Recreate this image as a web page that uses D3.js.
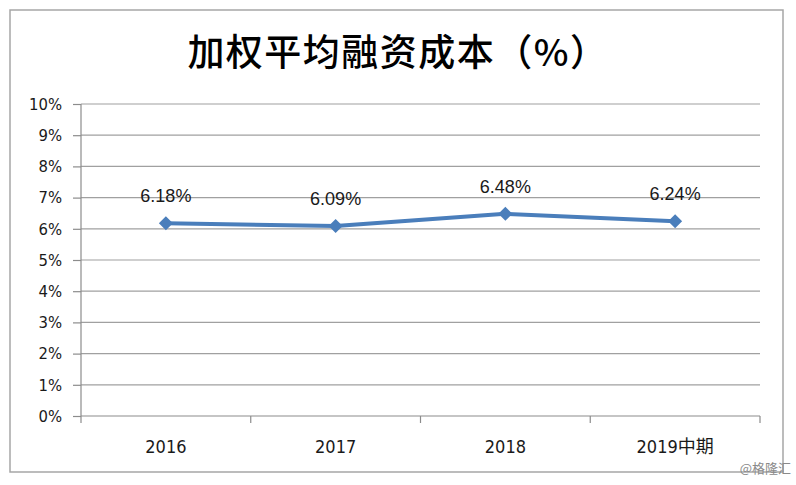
<!DOCTYPE html>
<html>
<head>
<meta charset="utf-8">
<script src="https://cdn.jsdelivr.net/npm/d3@7"></script>
<style>
  html, body { margin: 0; padding: 0; background: #fff; }
  svg { display: block; }
</style>
</head>
<body>
<script>
const categories = ["2016", "2017", "2018", "2019中期"];
const values = [6.18, 6.09, 6.48, 6.24];
const valueLabels = ["6.18%", "6.09%", "6.48%", "6.24%"];
const yTicks = [0, 1, 2, 3, 4, 5, 6, 7, 8, 9, 10];
const title = "加权平均融资成本（%）";
const watermark = "@格隆汇";

(function () {
const W = 796, H = 485;
const svg = d3.select("body").append("svg").attr("width", W).attr("height", H);

// outer frame
svg.append("rect").attr("x", 10).attr("y", 10).attr("width", 773).attr("height", 462)
  .attr("fill", "#fff").attr("stroke", "#a6a6a6").attr("stroke-width", 1.5);

const pLeft = 81, pRight = 760, pTop = 104, pBottom = 416;
const x = d3.scaleBand().domain(categories).range([pLeft, pRight]);
const y = d3.scaleLinear().domain([0, 10]).range([pBottom, pTop]);

// gridlines
svg.append("g").selectAll("line").data(yTicks.filter(d => d > 0)).join("line")
  .attr("x1", pLeft).attr("x2", pRight)
  .attr("y1", d => y(d)).attr("y2", d => y(d))
  .attr("stroke", "#a0a0a0").attr("stroke-width", 1.2);

// y axis
const yAxis = svg.append("g").attr("transform", `translate(${pLeft},0)`)
  .call(d3.axisLeft(y).tickValues(yTicks).tickFormat(d => d + "%").tickSize(8).tickPadding(11));
yAxis.select(".domain").attr("d", `M0,${pTop}V${pBottom + 7}`).attr("stroke", "#8c8c8c").attr("stroke-width", 1.2);
yAxis.selectAll(".tick line").attr("stroke", "#8c8c8c").attr("stroke-width", 1.2);
yAxis.selectAll(".tick text").attr("fill", "#1a1a1a")
  .style("font-family", "'DejaVu Sans Condensed', 'DejaVu Sans', sans-serif").style("font-size", "16.5px");

// x axis
const xAxis = svg.append("g").attr("transform", `translate(0,${pBottom})`)
  .call(d3.axisBottom(x).tickSize(0).tickPadding(24));
xAxis.select(".domain").remove();
svg.append("line").attr("x1", pLeft).attr("x2", pRight).attr("y1", pBottom).attr("y2", pBottom)
  .attr("stroke", "#8c8c8c").attr("stroke-width", 1.2);
svg.append("g").selectAll("line").data(categories).join("line")
  .attr("x1", d => x(d) + x.bandwidth()).attr("x2", d => x(d) + x.bandwidth())
  .attr("y1", pBottom).attr("y2", pBottom + 7)
  .attr("stroke", "#8c8c8c").attr("stroke-width", 1.2);
xAxis.selectAll(".tick text").attr("fill", "#1a1a1a")
  .style("font-family", "'DejaVu Sans Condensed', 'Noto Sans CJK SC', sans-serif").style("font-size", "18px");

// line
const cx = d => x(d) + x.bandwidth() / 2;
const pts = categories.map((c, i) => [cx(c), y(values[i])]);
svg.append("path").datum(pts)
  .attr("d", d3.line())
  .attr("fill", "none").attr("stroke", "#4a7ebb").attr("stroke-width", 4)
  .attr("stroke-linejoin", "round");

// diamond markers
svg.append("g").selectAll("path").data(pts).join("path")
  .attr("transform", d => `translate(${d[0]},${d[1]})`)
  .attr("d", d3.symbol(d3.symbolDiamond2, 125))
  .attr("fill", "#4a7ebb");

// value labels
svg.append("g").selectAll("text").data(pts).join("text")
  .attr("x", d => d[0]).attr("y", d => d[1] - 21)
  .attr("text-anchor", "middle")
  .attr("fill", "#1a1a1a")
  .style("font-family", "'Liberation Sans', Arial, sans-serif").style("font-size", "18px")
  .text((d, i) => valueLabels[i]);

// title
svg.append("text").attr("x", 398).attr("y", 66).attr("text-anchor", "middle")
  .attr("fill", "#000")
  .style("font-family", "'Noto Sans CJK SC', sans-serif").style("font-size", "37px").style("font-weight", "500")
  .style("letter-spacing", "1.5px")
  .text(title);

// watermark
svg.append("text").attr("x", 791).attr("y", 473).attr("text-anchor", "end")
  .attr("fill", "#8a8a8a")
  .style("font-family", "'Noto Sans CJK SC', sans-serif").style("font-size", "13px")
  .text(watermark);
})();
</script>
</body>
</html>
